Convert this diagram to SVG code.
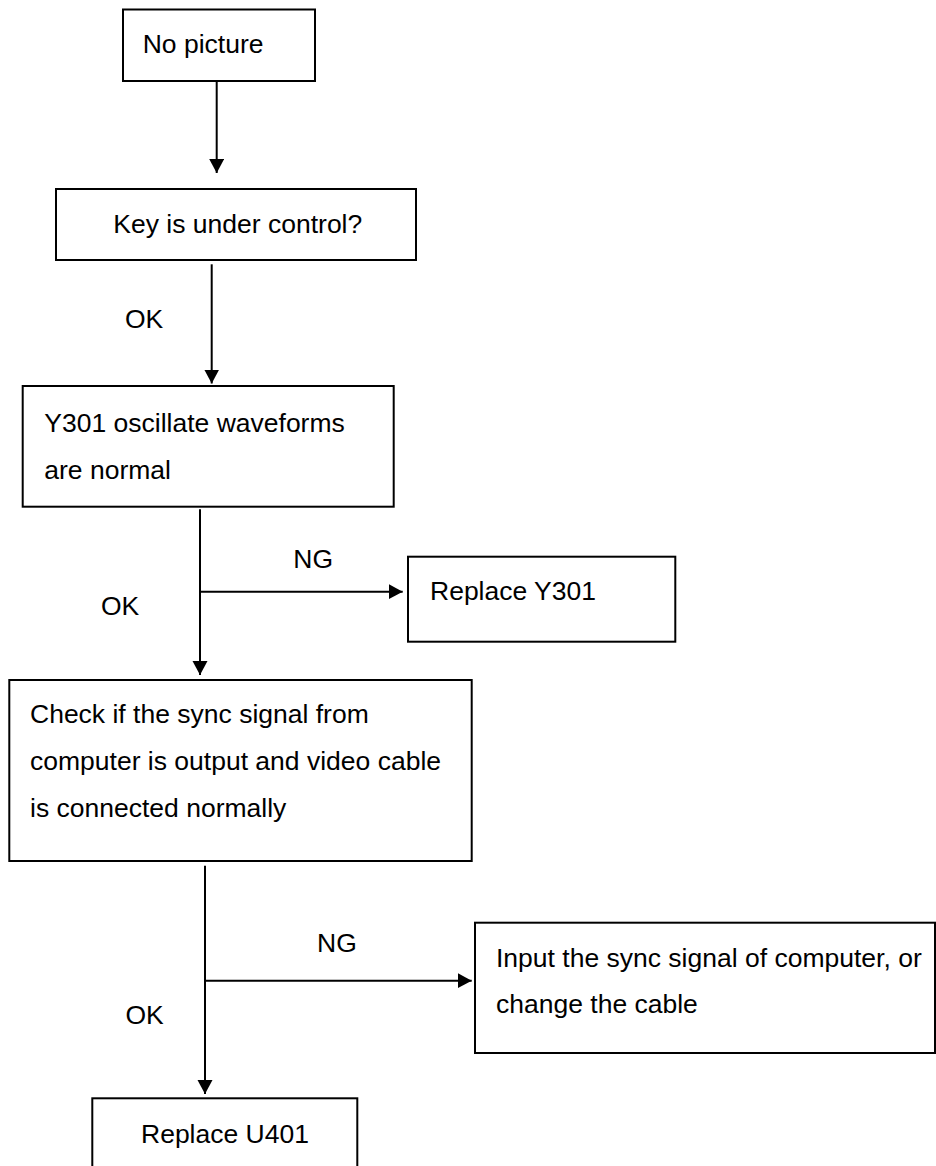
<svg xmlns="http://www.w3.org/2000/svg" width="936" height="1166" viewBox="0 0 936 1166">
<style>
.box{fill:#fff;stroke:#000;stroke-width:2}
.ln{fill:none;stroke:#000;stroke-width:2}
text{font-family:"Liberation Sans",Arial,sans-serif;font-size:26.5px;fill:#000}
</style>
<defs>
<marker id="ah" markerUnits="userSpaceOnUse" markerWidth="15" markerHeight="16" refX="14" refY="7.5" orient="auto">
<path d="M0,0 L14,7.5 L0,15 z" fill="#000"/>
</marker>
</defs>
<rect width="936" height="1166" fill="#fff"/>
<g id="connectors">
<line class="ln" x1="216.7" y1="81" x2="216.7" y2="173" marker-end="url(#ah)"/>
<line class="ln" x1="211.7" y1="264.3" x2="211.7" y2="383.5" marker-end="url(#ah)"/>
<line class="ln" x1="200" y1="509.3" x2="200" y2="675" marker-end="url(#ah)"/>
<line class="ln" x1="200" y1="591.7" x2="402.7" y2="591.7" marker-end="url(#ah)"/>
<line class="ln" x1="205" y1="865.7" x2="205" y2="1094" marker-end="url(#ah)"/>
<line class="ln" x1="205" y1="980.7" x2="471.7" y2="980.7" marker-end="url(#ah)"/>
<text x="125" y="328">OK</text>
<text x="101" y="615">OK</text>
<text x="293.3" y="567.7">NG</text>
<text x="317" y="951.7">NG</text>
<text x="125.5" y="1024">OK</text>
</g>
<g id="n1">
<rect class="box" x="123" y="9.5" width="192" height="71.5"/>
<text x="142.7" y="53.3">No picture</text>
</g>
<g id="n2">
<rect class="box" x="56" y="189" width="360" height="71"/>
<text x="113.3" y="233.3">Key is under control?</text>
</g>
<g id="n3">
<rect class="box" x="22.7" y="386" width="371" height="120.7"/>
<text x="44.3" y="431.7">Y301 oscillate waveforms</text>
<text x="44.3" y="479">are normal</text>
</g>
<g id="n4">
<rect class="box" x="408" y="556.7" width="267.3" height="85"/>
<text x="430" y="600">Replace Y301</text>
</g>
<g id="n5">
<rect class="box" x="9.3" y="680" width="462.4" height="181"/>
<text x="30" y="723.3">Check if the sync signal from</text>
<text x="30" y="770">computer is output and video cable</text>
<text x="30" y="816.7">is connected normally</text>
</g>
<g id="n6">
<rect class="box" x="475" y="922.7" width="460" height="130.3"/>
<text x="496" y="966.7">Input the sync signal of computer, or</text>
<text x="496" y="1013.3">change the cable</text>
</g>
<g id="n7">
<rect class="box" x="92.3" y="1098.3" width="265" height="80"/>
<text x="141" y="1142.7">Replace U401</text>
</g>
</svg>
